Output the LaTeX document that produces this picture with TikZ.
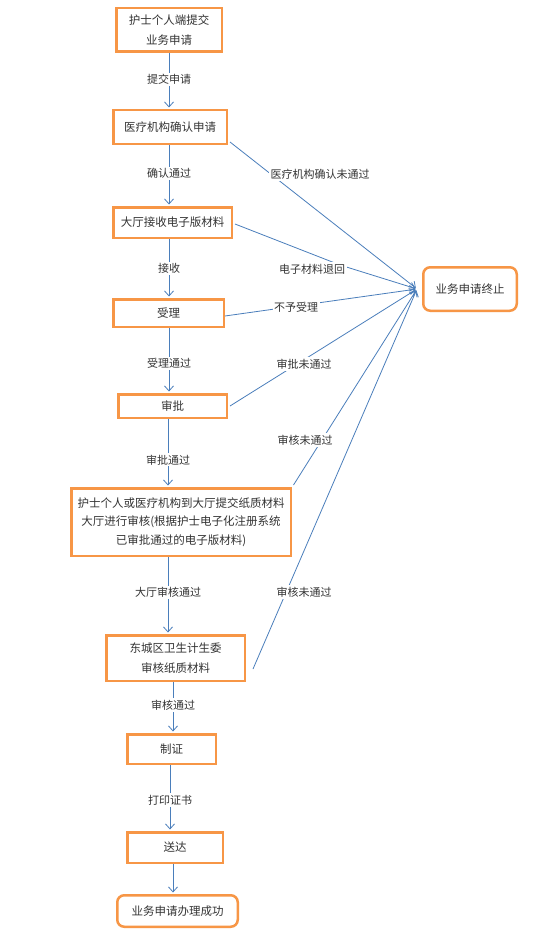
\documentclass[tikz,border=0pt]{standalone}
\usepackage{fontspec}
\setmainfont{Noto Sans CJK SC}
\usetikzlibrary{arrows.meta}
\definecolor{boxor}{HTML}{F79646}
\definecolor{lineblue}{HTML}{4A7EBB}
\begin{document}
\begin{tikzpicture}[x=1pt,y=-1pt,
  box/.style={draw=boxor,line width=2.5pt,fill=white,align=center,inner sep=0pt,
    font=\fontsize{11.5}{19.5}\selectfont,text=black!80},
  rbox/.style={box,rounded corners=7pt},
  arr/.style={draw=lineblue,line width=0.8pt,shorten >=1.5pt,
    -{Straight Barb[length=5pt,width=9pt]}},
  lbl/.style={fill=white,inner sep=1.5pt,font=\fontsize{11}{13}\selectfont,text=black!80}]
\useasboundingbox (0,0) rectangle (552,939);
\fill[white] (0,0) rectangle (552,939);

% main boxes
\node[box,minimum width=105.5pt,minimum height=43.5pt] (n1) at (169,30) {护士个人端提交\\业务申请};
\node[box,minimum width=113.5pt,minimum height=33.5pt] (n2) at (170,127) {医疗机构确认申请};
\node[box,minimum width=118.5pt,minimum height=30.5pt] (n3) at (172.5,222.5) {大厅接收电子版材料};
\node[box,minimum width=110.5pt,minimum height=27.5pt] (n4) at (168.5,313) {受理};
\node[box,minimum width=108.5pt,minimum height=23.5pt] (n5) at (172.5,406) {审批};
\node[box,minimum width=219.5pt,minimum height=67.5pt,font=\fontsize{11.5}{18.5}\selectfont] (n6) at (181,522)
  {护士个人或医疗机构到大厅提交纸质材料\\大厅进行审核(根据护士电子化注册系统\\已审批通过的电子版材料)};
\node[box,minimum width=138.5pt,minimum height=45.5pt] (n7) at (175.5,658) {东城区卫生计生委\\审核纸质材料};
\node[box,minimum width=88.5pt,minimum height=29.5pt] (n8) at (171.5,749) {制证};
\node[box,minimum width=95.5pt,minimum height=30.5pt] (n9) at (175,847.5) {送达};
\node[rbox,minimum width=120.5pt,minimum height=31.5pt] (n10) at (177.5,911) {业务申请办理成功};
\node[rbox,minimum width=93.5pt,minimum height=43.5pt] (n11) at (470,289) {业务申请终止};

% x positions of vertical connectors
\coordinate (a1) at (169,0);
\coordinate (a2) at (169,0);
\coordinate (a3) at (169,0);
\coordinate (a4) at (169,0);
\coordinate (a5) at (168,0);
\coordinate (a6) at (168,0);
\coordinate (a7) at (173,0);
\coordinate (a8) at (170,0);
\coordinate (a9) at (173,0);

\draw[arr] (n1.south -| a1) -- (n2.north -| a1) node[lbl,pos=0.47] {提交申请};
\draw[arr] (n2.south -| a2) -- (n3.north -| a2) node[lbl,pos=0.47] {确认通过};
\draw[arr] (n3.south -| a3) -- (n4.north -| a3) node[lbl,pos=0.5] {接收};
\draw[arr] (n4.south -| a4) -- (n5.north -| a4) node[lbl,pos=0.55] {受理通过};
\draw[arr] (n5.south -| a5) -- (n6.north -| a5) node[lbl,pos=0.6] {审批通过};
\draw[arr] (n6.south -| a6) -- (n7.north -| a6) node[lbl,pos=0.46] {大厅审核通过};
\draw[arr] (n7.south -| a7) -- (n8.north -| a7) node[lbl,pos=0.45] {审核通过};
\draw[arr] (n8.south -| a8) -- (n9.north -| a8) node[lbl,pos=0.53] {打印证书};
\draw[arr] (n9.south -| a9) -- (n10.north -| a9);

% connectors to termination
\coordinate (E) at ([xshift=-5pt]n11.west);
\coordinate (b2) at (340,265);

\draw[arr] ([shift={(2,-3)}]n2.south east) -- (E);
\node[lbl] (l1) at (320,174) {医疗机构确认未通过};

\draw[arr] ([shift={(2,1.5)}]n3.east) -- (b2) -- (E);
\node[lbl] (l2) at (312,269) {电子材料退回};

\draw[arr] ([yshift=-3pt]n4.east) -- (E);
\node[lbl] (l3) at (296,307) {不予受理};

\draw[arr] ([xshift=2pt]n5.east) -- (E);
\node[lbl] (l4) at (304,364) {审批未通过};

\draw[arr] ([shift={(1.5,-2)}]n6.north east) -- (E);
\node[lbl] (l5) at (305,440) {审核未通过};

\draw[arr] ([shift={(7,11)}]n7.east) -- (E);
\node[lbl] (l6) at (304,592) {审核未通过};
\end{tikzpicture}
\end{document}
